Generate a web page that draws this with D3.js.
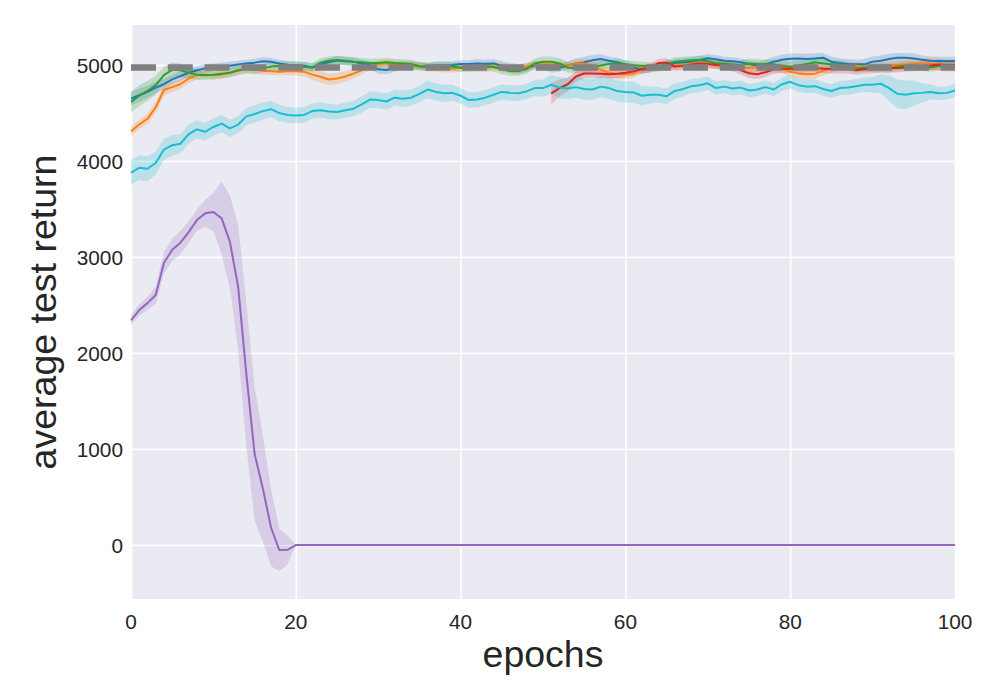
<!DOCTYPE html>
<html>
<head>
<meta charset="utf-8">
<script src="https://cdn.jsdelivr.net/npm/d3@7"></script>
<style>
  body { margin: 0; background: #fff; }
  svg { display: block; font-family: "Liberation Sans", Arial, sans-serif; }
</style>
</head>
<body>
<div id="chart"></div>
<script>
// average test return per epoch (index = epoch)
var blueMean = [
  4650,4685,4720,4765,4800,4850,4885,4920,4945,4965,
  4975,4985,4993,5005,5015,5025,5040,5035,5015,5003,
  4998,4993,4975,5005,5030,5048,5040,5035,5015,5000,
  4955,4948,4975,4995,5000,4990,4985,4995,4995,5000,
  5010,5010,5017,5010,5017,4990,4970,4960,4970,4995,
  5000,4960,4972,4995,5017,5030,5050,5062,5045,5030,
  5005,4975,4950,4960,4983,5000,5020,5030,5035,5052,
  5070,5060,5045,5040,5028,5010,4993,5007,5035,5055,
  5065,5069,5062,5069,5076,5035,5020,5012,5007,5007,
  5035,5045,5062,5076,5076,5069,5055,5045,5042,5042,
  5042];
var blueSd = [
  70,70,65,60,55,50,50,50,45,45,
  40,40,40,40,40,40,40,40,40,40,
  40,40,40,40,40,45,45,45,40,40,
  45,45,45,40,40,40,40,40,40,40,
  40,40,45,45,45,50,50,50,45,40,
  40,40,40,45,50,55,55,50,45,45,
  40,40,40,40,40,40,40,40,45,45,
  45,45,40,40,40,40,40,45,50,55,
  55,55,55,55,50,50,50,50,50,55,
  55,55,55,50,50,50,45,45,45,45,
  45];

var orangeMean = [
  4310,4380,4440,4560,4740,4770,4800,4860,4895,4900,
  4893,4900,4920,4940,4955,4950,4940,4935,4931,4935,
  4935,4931,4900,4878,4850,4860,4880,4910,4945,4990,
  5010,5017,5010,5005,4995,4990,4975,4970,4962,4960,
  4975,4980,4970,4965,4985,4975,4960,4950,4985,5005,
  5007,5007,5000,4995,5017,5017,4995,4950,4920,4910,
  4903,4915,4955,4970,4975,4980,4985,5000,5017,5017,
  5010,5005,4995,4985,4975,4970,4978,4975,4970,4965,
  4930,4913,4903,4910,4940,4965,4980,4988,4993,4975,
  4978,4990,4995,5000,5005,5012,5017,5010,5000,4993,
  4993];
var orangeSd = [
  50,50,55,60,60,55,50,50,45,40,
  40,40,40,40,40,40,40,40,40,40,
  45,50,55,60,60,60,55,50,45,40,
  40,40,40,40,40,40,40,40,40,40,
  40,40,40,40,40,45,45,45,40,40,
  40,40,40,40,40,45,50,55,55,55,
  50,45,40,40,40,40,40,40,40,40,
  40,40,40,40,40,45,50,50,50,50,
  50,55,55,55,50,45,40,40,40,40,
  40,40,45,45,50,55,60,60,60,60,
  60];

var greenMean = [
  4615,4680,4730,4790,4896,4950,4945,4920,4900,4893,
  4900,4910,4920,4945,4960,4950,4965,4985,4990,4995,
  4993,4983,4975,5025,5045,5052,5045,5035,5028,5020,
  5022,5028,5020,5015,5010,4985,4980,4993,4993,4985,
  4972,4972,4980,4990,4980,4955,4938,4938,4958,5017,
  5035,5035,5017,4975,4965,4965,4975,4995,5010,5017,
  5007,4998,4993,4985,4975,5010,5035,5042,5050,5052,
  5040,5015,5010,5005,5000,5017,5012,5007,5007,4990,
  4983,4995,5010,5028,5017,5007,5007,4990,4965,4975,
  4972,4972,4965,4985,4993,4993,4983,4975,4990,4995,
  5000];
var greenSd = [
  110,110,105,100,90,80,70,60,55,50,
  50,50,50,50,45,45,45,45,45,45,
  45,45,45,45,45,45,45,45,45,45,
  45,45,45,45,45,45,45,45,45,45,
  45,45,45,45,50,50,50,50,50,50,
  55,55,55,55,55,50,50,45,45,45,
  45,45,45,45,45,45,45,45,45,45,
  45,45,45,45,45,50,50,50,50,50,
  50,50,45,45,45,45,45,45,45,45,
  45,45,45,45,45,45,45,45,45,45,
  45];

// red only starts at epoch 51
var redStart = 51;
var redMean = [
  4705,4760,4800,4880,4912,4913,4910,4905,4908,4920,
  4935,4958,4970,5020,5025,4985,4990,5005,5015,5010,
  5000,4995,4980,4945,4915,4905,4925,4955,4965,4962,
  4958,4968,4970,4962,4958,4958,4958,4945,4955,4960,
  4965,4968,4970,4975,4980,4990,4995,5005,5000,5000];
var redSd = [
  110,90,70,55,50,45,45,45,45,45,
  45,45,45,45,45,45,45,45,45,45,
  45,45,45,45,50,50,50,45,45,45,
  45,45,45,45,45,45,45,45,45,45,
  45,45,45,45,45,50,50,55,55,55];

var purpleMean = [
  2340,2448,2520,2604,2940,3075,3150,3260,3385,3455,
  3470,3403,3160,2691,1780,950,590,180,-52,-50,
  0,0,0,0,0,0,0,0,0,0,
  0,0,0,0,0,0,0,0,0,0,
  0,0,0,0,0,0,0,0,0,0,
  0,0,0,0,0,0,0,0,0,0,
  0,0,0,0,0,0,0,0,0,0,
  0,0,0,0,0,0,0,0,0,0,
  0,0,0,0,0,0,0,0,0,0,
  0,0,0,0,0,0,0,0,0,0,
  0];
var purpleSd = [
  50,60,70,90,110,120,120,110,110,140,
  200,380,480,650,750,700,550,400,220,150,
  0,0,0,0,0,0,0,0,0,0,
  0,0,0,0,0,0,0,0,0,0,
  0,0,0,0,0,0,0,0,0,0,
  0,0,0,0,0,0,0,0,0,0,
  0,0,0,0,0,0,0,0,0,0,
  0,0,0,0,0,0,0,0,0,0,
  0,0,0,0,0,0,0,0,0,0,
  0,0,0,0,0,0,0,0,0,0,
  0];

var cyanMean = [
  3880,3930,3920,3980,4120,4165,4180,4280,4330,4305,
  4355,4390,4340,4380,4465,4490,4520,4540,4500,4480,
  4475,4480,4520,4530,4515,4510,4530,4545,4590,4640,
  4635,4620,4660,4650,4660,4700,4745,4720,4705,4710,
  4680,4635,4640,4660,4690,4720,4710,4705,4725,4760,
  4760,4795,4765,4755,4770,4750,4745,4775,4760,4730,
  4720,4715,4680,4690,4690,4675,4730,4750,4780,4790,
  4810,4760,4775,4755,4765,4735,4745,4770,4745,4800,
  4825,4790,4775,4780,4750,4730,4760,4765,4780,4795,
  4795,4805,4760,4700,4690,4705,4710,4720,4705,4710,
  4735];
var cyanSd = [
  130,130,130,120,110,110,100,100,95,90,
  90,90,90,90,90,90,90,85,85,85,
  80,80,80,80,80,80,80,80,85,85,
  85,85,85,85,85,85,90,90,90,85,
  80,80,80,80,80,80,80,80,80,85,
  90,100,110,110,110,110,110,110,110,110,
  110,110,100,90,80,80,80,75,75,75,
  70,70,70,70,70,70,70,70,70,70,
  70,70,70,70,70,70,75,75,75,75,
  80,100,130,150,150,130,100,80,70,70,
  70];

var referenceReturn = 4975;

var xTicks = [0, 20, 40, 60, 80, 100];
var yTicks = [0, 1000, 2000, 3000, 4000, 5000];

var series = [
  { mean: blueMean,   sd: blueSd,   start: 0,        color: "#1f77b4" },
  { mean: orangeMean, sd: orangeSd, start: 0,        color: "#ff7f0e" },
  { mean: greenMean,  sd: greenSd,  start: 0,        color: "#2ca02c" },
  { mean: redMean,    sd: redSd,    start: redStart, color: "#d62728" },
  { mean: purpleMean, sd: purpleSd, start: 0,        color: "#9467bd" },
  { mean: cyanMean,   sd: cyanSd,   start: 0,        color: "#17becf" }
];

var svg = d3.select("#chart").append("svg").attr("width", 1000).attr("height", 700),
    margin = {top: 25, right: 45, bottom: 101, left: 131},
    width = 1000 - margin.left - margin.right,
    height = 700 - margin.top - margin.bottom,
    g = svg.append("g").attr("transform", "translate(" + margin.left + "," + margin.top + ")");

var x = d3.scaleLinear().domain([0, 100]).range([0, width]);
var y = d3.scaleLinear().domain([-562, 5417]).range([height, 0]);

g.append("rect")
    .attr("width", width)
    .attr("height", height)
    .attr("fill", "#eaeaf2");

// grid
g.append("g")
    .attr("transform", "translate(0," + height + ")")
    .call(d3.axisBottom(x).tickValues(xTicks).tickSize(-height).tickFormat(""))
    .call(function (a) { a.select(".domain").remove(); })
    .selectAll("line").attr("stroke", "#fff").attr("stroke-width", 1.6);

g.append("g")
    .call(d3.axisLeft(y).tickValues(yTicks).tickSize(-width).tickFormat(""))
    .call(function (a) { a.select(".domain").remove(); })
    .selectAll("line").attr("stroke", "#fff").attr("stroke-width", 1.6);

// tick labels
g.append("g").selectAll("text")
    .data(xTicks)
    .enter().append("text")
    .attr("x", function (d) { return x(d); })
    .attr("y", height + 30)
    .attr("text-anchor", "middle")
    .attr("font-size", 20.8)
    .attr("fill", "#262626")
    .text(function (d) { return d; });

g.append("g").selectAll("text")
    .data(yTicks)
    .enter().append("text")
    .attr("x", -8)
    .attr("y", function (d) { return y(d); })
    .attr("dy", "0.36em")
    .attr("text-anchor", "end")
    .attr("font-size", 20.8)
    .attr("fill", "#262626")
    .text(function (d) { return d; });

// bands
var area = function (s) {
    return d3.area()
        .x(function (d, i) { return x(i + s.start); })
        .y0(function (d, i) { return y(d - s.sd[i]); })
        .y1(function (d, i) { return y(d + s.sd[i]); });
};

g.append("g").selectAll("path")
    .data(series)
    .enter().append("path")
    .attr("d", function (s) { return area(s)(s.mean); })
    .attr("fill", function (s) { return s.color; })
    .attr("fill-opacity", 0.22)
    .attr("stroke", "none");

// mean lines
g.append("g").selectAll("path")
    .data(series)
    .enter().append("path")
    .attr("d", function (s) {
        return d3.line()
            .x(function (d, i) { return x(i + s.start); })
            .y(function (d) { return y(d); })(s.mean);
    })
    .attr("fill", "none")
    .attr("stroke", function (s) { return s.color; })
    .attr("stroke-width", 2)
    .attr("stroke-linejoin", "round");

// reference level
g.append("line")
    .attr("x1", x(0))
    .attr("x2", x(100))
    .attr("y1", y(referenceReturn))
    .attr("y2", y(referenceReturn))
    .attr("stroke", "#808080")
    .attr("stroke-width", 6.5)
    .attr("stroke-dasharray", "25,11.8");

// axis labels
svg.append("text")
    .attr("x", margin.left + width / 2)
    .attr("y", 667)
    .attr("text-anchor", "middle")
    .attr("font-size", 37.5)
    .attr("fill", "#262626")
    .text("epochs");

svg.append("text")
    .attr("transform", "translate(56," + (margin.top + height / 2) + ") rotate(-90)")
    .attr("text-anchor", "middle")
    .attr("font-size", 37.5)
    .attr("fill", "#262626")
    .text("average test return");
</script>
</body>
</html>
